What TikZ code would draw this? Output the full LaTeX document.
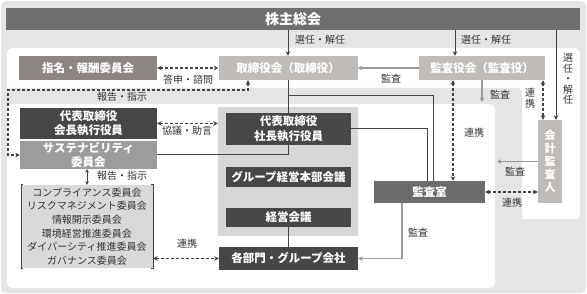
\documentclass[tikz,border=0pt]{standalone}
\usepackage{fontspec}
\setmainfont{Noto Sans CJK JP}
\usetikzlibrary{arrows.meta}
\definecolor{bgc}{HTML}{E5E5E5}
\definecolor{topc}{HTML}{6E6F71}
\definecolor{dk}{HTML}{47474A}
\definecolor{susc}{HTML}{9C9C9C}
\definecolor{nomc}{HTML}{8D8583}
\definecolor{ltc}{HTML}{BFBBB8}
\definecolor{audc}{HTML}{6B6B6B}
\definecolor{execc}{HTML}{D7D7D7}
\definecolor{commc}{HTML}{D9D9D9}
\definecolor{linec}{HTML}{444446}
\definecolor{grayarr}{HTML}{9B9B9B}
\definecolor{txt}{HTML}{333333}
\begin{document}
\begin{tikzpicture}[x=1pt,y=-1pt,
  >={Stealth[length=4.5pt,width=4.5pt,inset=1.3pt]},
  box/.style={inner sep=0pt, text=white, align=center, font=\bfseries\fontsize{11.5}{14.5}\selectfont},
  lbl/.style={inner sep=0pt, text=txt, font=\fontsize{10}{12}\selectfont, align=center},
  ln/.style={draw=linec, line width=1pt},
  dsh/.style={draw=linec, line width=1.1pt, dash pattern=on 3pt off 2pt},
  garr/.style={draw=grayarr, line width=1.4pt, ->},
]
\useasboundingbox (0,0) rectangle (587,294);
% backgrounds
\fill[white] (0,0) rectangle (587,294);
\fill[bgc, rounded corners=5pt] (1,1) rectangle (586,293);
\fill[white, rounded corners=5pt] (7,48) rectangle (580,219);
\fill[bgc, rounded corners=4pt] (1,88) rectangle (522,292);
\fill[white, rounded corners=5pt] (7,104) rectangle (495,288);
\node[fill=execc, inner sep=0pt, minimum width=140pt, minimum height=129pt] (execbg) at (288,171.5) {};

% coordinates
\coordinate (c453) at (453,0);
\coordinate (c455) at (455,0);
\coordinate (c543) at (543,0);
\coordinate (c556) at (556,0);
\coordinate (c497) at (497,0);
\coordinate (c402) at (402,0);
\coordinate (c433) at (433,0);
\coordinate (c427) at (427,0);
\coordinate (pb) at (0,102);
\coordinate (j1) at (288,96);
\coordinate (r1) at (248,90);
\coordinate (r2) at (8,90);

% nodes
\node[box, fill=topc, minimum width=574pt, minimum height=22pt, font=\bfseries\fontsize{14}{16}\selectfont] (top) at (293,19) {株主総会};
\node[box, fill=nomc, minimum width=138pt, minimum height=24pt] (nom) at (88,68) {指名・報酬委員会};
\node[box, fill=ltc, minimum width=139pt, minimum height=24pt] (board) at (288,68) {取締役会（取締役）};
\node[box, fill=ltc, minimum width=126pt, minimum height=24pt] (kansayaku) at (482,68) {監査役会（監査役）};
\node[box, fill=ltc, minimum width=24pt, minimum height=83pt, font=\bfseries\fontsize{11}{13}\selectfont] (kaikei) at (550,161.5) {会\\計\\監\\査\\人};
\node[box, fill=dk, minimum width=137pt, minimum height=31pt] (chair) at (88.5,123.5) {代表取締役\\会長執行役員};
\node[box, fill=susc, minimum width=137pt, minimum height=28pt] (sus) at (88.5,155) {サステナビリティ\\委員会};
\node[fill=commc, inner sep=0pt, minimum width=132pt, minimum height=83pt, text=txt, align=center, font=\fontsize{10}{13.6}\selectfont] (comm) at (87,226.5) {コンプライアンス委員会\\リスクマネジメント委員会\\情報開示委員会\\環境経営推進委員会\\ダイバーシティ推進委員会\\ガバナンス委員会};
\draw[draw=linec, line width=0.6pt] ([xshift=2pt]comm.north west) -- (comm.north west) -- (comm.south west) -- ([xshift=2pt]comm.south west);
\draw[draw=linec, line width=0.6pt] ([xshift=-2pt]comm.north east) -- (comm.north east) -- (comm.south east) -- ([xshift=-2pt]comm.south east);
\node[box, fill=dk, minimum width=125pt, minimum height=32pt] (pres) at (288.5,129) {代表取締役\\社長執行役員};
\node[box, fill=dk, minimum width=125pt, minimum height=20pt] (grp) at (288.5,177) {グループ経営本部会議};
\node[box, fill=dk, minimum width=125pt, minimum height=19pt] (keiei) at (288.5,217.5) {経営会議};
\node[box, fill=dk, minimum width=139pt, minimum height=23pt] (bumon) at (288.5,258.5) {各部門・グループ会社};
\node[box, fill=audc, minimum width=111pt, minimum height=22pt] (kansashitsu) at (429.5,192) {監査室};

% connectors
\draw[ln,->] (top.south -| board.south) -- (board.north);
\draw[ln,->] (top.south -| c455) -- (kansayaku.north -| c455);
\draw[ln,->] (top.south -| c556) -- (kaikei.north -| c556);
\draw[dsh,<->] (nom.east) -- (board.west);
\draw[garr] (kansayaku.west) -- (board.east);
\draw[garr] (kansayaku.south) -- (kansayaku.south |- pb);
\draw[dsh,<->] (kansayaku.south -| c453) -- (kansashitsu.north -| c453);
\draw[dsh,<->] (kansayaku.south -| c543) -- (kaikei.north -| c543);
\draw[garr] (kaikei.west) -- (c497 |- kaikei.west);
\draw[dsh,<->] (kansashitsu.east) -- (kansashitsu.east -| kaikei.west);
\draw[garr] (kansashitsu.south -| c402) |- (bumon.east);
\draw[ln] (board.south) -- (board.south |- pres.north);
\draw[ln] (j1) -| (kansashitsu.north -| c433);
\draw[ln] (pres.east) -| (kansashitsu.north -| c427);
\draw[ln] (pres.south) |- (sus.east);
\draw[ln] (keiei.south) -- (keiei.south |- bumon.north);
\draw[dsh,<->] (chair.east) -- (chair.east -| execbg.west);
\draw[dsh,<->] (board.south -| r1) -- (r1) -- (r2) |- (sus.west);
\draw[ln,<->,>={Stealth[length=3.5pt,width=3.5pt,inset=1pt]}] (comm.north |- sus.south) -- (comm.north);
\draw[dsh,<->] (bumon.west -| comm.east) -- (bumon.west);

% labels
\node[lbl, anchor=west] (l1) at (295,40) {選任・解任};
\node[lbl, anchor=west] (l2) at (461,40) {選任・解任};
\node[lbl, font=\fontsize{10}{10.5}\selectfont] (l3) at (568,79) {選\\任\\・\\解\\任};
\node[lbl] (l4) at (188,80) {答申・諮問};
\node[lbl] (l5) at (391,79) {監査};
\node[lbl] (l6) at (500,95) {監査};
\node[lbl] (l7) at (474,133) {連携};
\node[lbl, font=\fontsize{10}{11}\selectfont] (l8) at (530,98) {連\\携};
\node[lbl] (l9) at (515,172) {監査};
\node[lbl] (l10) at (512,203) {連携};
\node[lbl] (l11) at (418,233) {監査};
\node[lbl] (l12) at (187,131) {協議・助言};
\node[lbl] (l13) at (122,97) {報告・指示};
\node[lbl] (l14) at (122,176) {報告・指示};
\node[lbl] (l15) at (187,244) {連携};
\end{tikzpicture}
\end{document}
